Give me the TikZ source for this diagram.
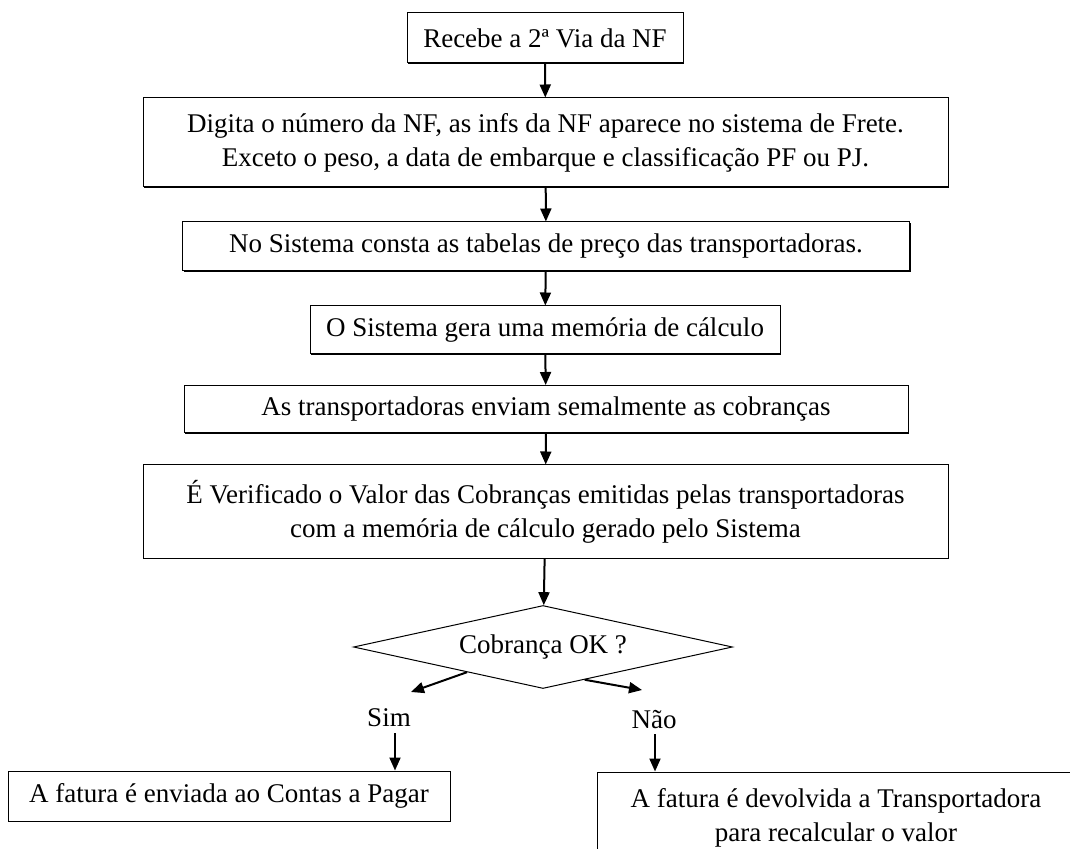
\documentclass[tikz,border=0pt]{standalone}
\usepackage{fontspec}
\setmainfont{Liberation Serif}
\usetikzlibrary{shapes.geometric,arrows.meta,shadows,calc}
\begin{document}
\begin{tikzpicture}[x=0.5pt,y=-0.5pt,
  every node/.style={font=\fontsize{13.5}{17}\selectfont,inner sep=0pt},
  box/.style={draw,line width=0.5pt,fill=white,align=center,
    drop shadow={shadow xshift=0.6pt,shadow yshift=-0.6pt,opacity=1,fill=black}},
  flow/.style={-{Triangle[length=6.5pt,width=5.5pt]},line width=1pt}]
\clip (0,0) rectangle (1070,849);
% caixas do fluxo
\node[box,minimum width=138pt,minimum height=25pt] (recebe) at (545,38) {Recebe a 2ª Via da NF};
\node[box,minimum width=402.5pt,minimum height=44.5pt] (digita) at (545.5,142.5)
  {Digita o número da NF, as infs da NF aparece no sistema de Frete.\\Exceto o peso, a data de embarque e classificação PF ou PJ.};
\node[box,minimum width=363.5pt,minimum height=24.5pt] (tabelas) at (546,246.5) {No Sistema consta as tabelas de preço das transportadoras.};
\node[box,minimum width=235pt,minimum height=24pt] (memoria) at (545,330) {O Sistema gera uma memória de cálculo};
\node[box,minimum width=362pt,minimum height=23.5pt] (enviam) at (546,409) {As transportadoras enviam semalmente as cobranças};
\node[box,minimum width=402.5pt,minimum height=46.5pt] (verif) at (545.5,511.5)
  {É Verificado o Valor das Cobranças emitidas pelas transportadoras\\com a memória de cálculo gerado pelo Sistema};
\node[draw,diamond,aspect=4.57,line width=0.5pt,minimum width=189.5pt,minimum height=41.5pt] (dec) at (543,647) {Cobrança OK ?};
\node (sim) at (389,718) {Sim};
\node (nao) at (654,720) {Não};
\node[box,minimum width=221pt,minimum height=25pt] (pagar) at (229,796) {A fatura é enviada ao Contas a Pagar};
\node[box,minimum width=239pt,minimum height=46pt] (devol) at (836,818)
  {A fatura é devolvida a Transportadora\\para recalcular o valor};
% setas
\draw[flow] (recebe) -- (digita);
\draw[flow] (digita) -- (tabelas);
\draw[flow] (tabelas) -- (memoria);
\draw[flow] (memoria) -- (enviam);
\draw[flow] (enviam) -- (verif);
\draw[flow] (verif) -- (dec);
\coordinate (simend) at (411,692);
\coordinate (naoend) at (642,690);
\draw[flow] ($(dec.south)!0.4!(dec.west)$) -- (simend);
\draw[flow] ($(dec.south)!0.22!(dec.east)$) -- (naoend);
\coordinate (simtop) at (395,733);
\coordinate (naotop) at (655,734);
\draw[flow] (simtop) -- (simtop |- pagar.north);
\draw[flow] (naotop) -- (naotop |- devol.north);
\end{tikzpicture}
\end{document}
